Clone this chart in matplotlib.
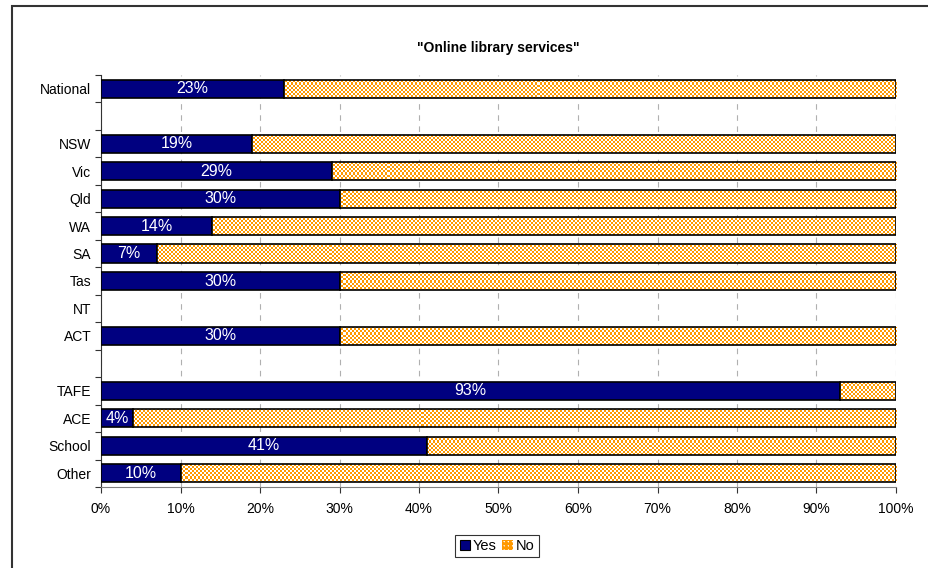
import numpy as np
import matplotlib
matplotlib.use("Agg")
import matplotlib.pyplot as plt
from matplotlib.colors import ListedColormap
from matplotlib.patches import Patch, Rectangle

plt.rcParams['font.family'] = ['Liberation Sans', 'DejaVu Sans']
plt.rcParams['hatch.color'] = '#FF9900'
plt.rcParams['hatch.linewidth'] = 2.0

categories = ['National', '', 'NSW', 'Vic', 'Qld', 'WA', 'SA', 'Tas', 'NT', 'ACT',
              '', 'TAFE', 'ACE', 'School', 'Other']
yes = [23, None, 19, 29, 30, 14, 7, 30, None, 30, None, 93, 4, 41, 10]
x_ticks = [0, 10, 20, 30, 40, 50, 60, 70, 80, 90, 100]
x_labels = ['0%', '10%', '20%', '30%', '40%', '50%', '60%', '70%', '80%', '90%', '100%']

NAVY = '#000080'
ORANGE = '#FF9900'

fig = plt.figure(figsize=(9.29, 5.68), dpi=100)
W, H = 929, 568
L, R, T, B = 101, 896, 75, 487
ax = fig.add_axes([L / W, 1 - B / H, (R - L) / W, (B - T) / H])

# outer chart frame (runs off the right and bottom edges)
fig.patches.append(Rectangle((12 / W, -0.1), 1.2, 1.1 - 6 / H,
                             transform=fig.transFigure, fill=False,
                             edgecolor='#333333', linewidth=1.5))

n = len(categories)
pos = np.arange(n)
# checkerboard texture for the "No" part, 2 px cells
ii, jj = np.indices((B - T, R - L))
checker = ((ii // 2 + jj // 2) % 2)
cmap = ListedColormap(['white', ORANGE])

bar_h = 0.66
for i, v in enumerate(yes):
    if v is None:
        continue
    ax.barh(pos[i], v, height=bar_h, color=NAVY, edgecolor='black',
            linewidth=1.2, zorder=3)
    no_bar = ax.barh(pos[i], 100 - v, left=v, height=bar_h, color='none',
                     edgecolor='black', linewidth=1.2, zorder=4)[0]
    im = ax.imshow(checker, cmap=cmap, extent=(0, 100, n - 0.5, -0.5),
                   aspect='auto', interpolation='nearest', resample=False,
                   zorder=3)
    im.set_clip_path(no_bar)
    ax.text(v / 2, pos[i], '{}%'.format(v), color='white', ha='center',
            va='center', fontsize=11.5, zorder=5)

ax.set_xlim(0, 100)
ax.set_ylim(n - 0.5, -0.5)
ax.set_xticks(x_ticks)
ax.set_xticklabels(x_labels, fontsize=10)
ax.set_yticks(np.arange(-0.5, n, 1.0))
ax.set_yticklabels([])
ax.set_yticks(pos, minor=True)
ax.set_yticklabels(categories, minor=True, fontsize=10)
ax.tick_params(axis='y', which='minor', length=0, pad=7)
ax.tick_params(axis='y', which='major', length=4, direction='out', color='#333333')
ax.tick_params(axis='x', length=4, direction='out', color='#333333', pad=7)

ax.grid(axis='x', color='#B0B0B0', linestyle=(0, (5, 5)), linewidth=0.8)
ax.set_axisbelow(True)
ax.spines['top'].set_visible(False)
ax.spines['right'].set_visible(False)
ax.spines['left'].set_color('#333333')
ax.spines['bottom'].set_color('#808080')

fig.text(0.5 * (L + R) / W, 1 - 48 / H, '"Online library services"',
         ha='center', va='center', fontsize=10, fontweight='bold')

handles = [Patch(facecolor=NAVY, edgecolor='black', linewidth=0.8, label='Yes'),
           Patch(facecolor='white', hatch='++++', label='No')]
leg = fig.legend(handles=handles, loc='center', bbox_to_anchor=(497 / W, 1 - 546 / H),
                 ncol=2, fontsize=10.5, frameon=True, fancybox=False,
                 handlelength=0.7, handleheight=0.7, handletextpad=0.2,
                 columnspacing=0.4, borderpad=0.3, borderaxespad=0)
leg.get_frame().set_edgecolor('black')
leg.get_frame().set_linewidth(0.8)

fig.savefig('out.png', dpi=100)
